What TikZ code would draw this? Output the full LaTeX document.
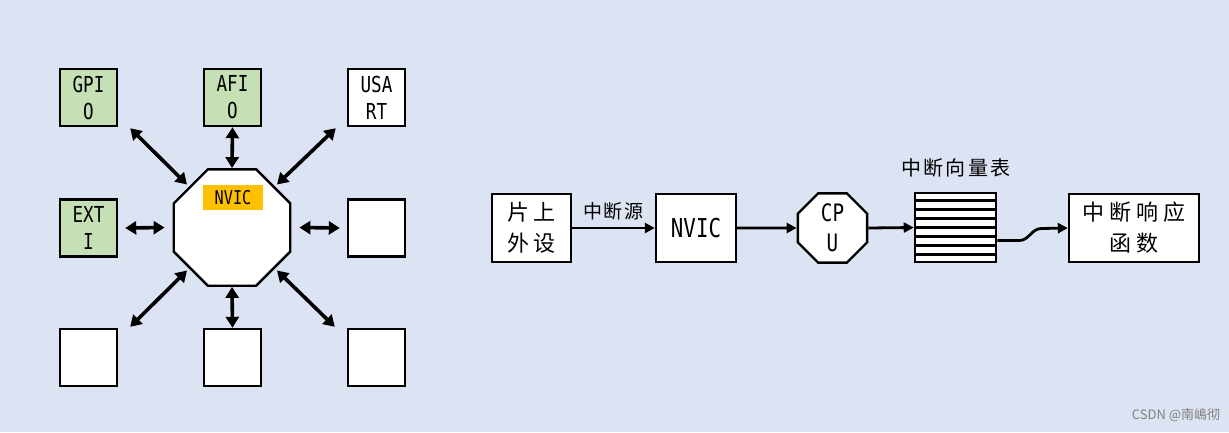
\documentclass[tikz,border=0pt]{standalone}
\usepackage{fontspec}
\usetikzlibrary{arrows.meta,shapes.geometric,calc}
\newfontfamily\cjk{Noto Sans CJK SC}
\newfontfamily\lat[FakeStretch=0.8]{DejaVu Sans Mono}
\definecolor{bg}{RGB}{220,227,242}
\definecolor{grn}{RGB}{197,224,180}
\definecolor{org}{RGB}{255,192,0}
\begin{document}
\begin{tikzpicture}[x=1pt,y=-1pt,
  sq/.style={draw, line width=2.4pt, fill=white, minimum width=57pt, minimum height=57pt, inner sep=0pt, align=center, font=\lat\fontsize{22}{27}\selectfont},
  gsq/.style={sq, fill=grn},
  dbl/.style={{Triangle[length=11pt,width=13pt]}-{Triangle[length=11pt,width=13pt]}, line width=3.6pt},
  arr/.style={-{Triangle[length=10pt,width=10pt]}, line width=2.8pt},
  rbox/.style={draw, line width=2.4pt, fill=white, minimum height=68pt, inner sep=0pt, align=center},
  cj/.style={font=\cjk\fontsize{22}{31}\selectfont\addfontfeature{LetterSpace=22}},
]
\fill[bg] (0,0) rectangle (1229,432);
\useasboundingbox (0,0) rectangle (1229,432);

% left cluster
\node[gsq] (gpio) at (88.5,97.5) {GPI\\O};
\node[gsq] (afio) at (232.5,97.5) {AFI\\O};
\node[sq] (usart) at (376.5,97.5) {USA\\RT};
\node[gsq] (exti) at (88.5,228) {EXT\\I};
\node[sq] (rm) at (376.5,228) {};
\node[sq] (bl) at (88.5,357.5) {};
\node[sq] (bc) at (232.5,357.5) {};
\node[sq] (br) at (376.5,357.5) {};
\node[draw, line width=2.4pt, fill=white, regular polygon, regular polygon sides=8, minimum size=126pt, inner sep=0pt] (oct) at (232,227.5) {};
\node[fill=org, minimum width=60pt, minimum height=25pt, inner sep=0pt, font=\lat\fontsize{19}{20}\selectfont] (nvl) at (233,197.5) {NVIC};

\draw[dbl] ([shift={(12,1)}]gpio.south east) -- ([shift={(-3,-1)}]oct.135);
\draw[dbl] (afio.south) -- (oct.north);
\draw[dbl] ([shift={(-11,1)}]usart.south west) -- ([shift={(3,-1)}]oct.45);
\draw[dbl] ([shift={(7,0)}]exti.east) -- ([shift={(-8,0)}]oct.west);
\draw[dbl] ([shift={(8,0)}]oct.east) -- ([shift={(-7,0)}]rm.west);
\draw[dbl] ([shift={(-3,1)}]oct.225) -- ([shift={(12,-1)}]bl.north east);
\draw[dbl] (oct.south) -- (bc.north);
\draw[dbl] ([shift={(3,1)}]oct.315) -- ([shift={(-12,-1)}]br.north west);

% right flow
\node[rbox, minimum width=79pt, cj] (src) at (531.5,228) {片上\\外设};
\node[rbox, minimum width=80pt, font=\lat\fontsize{26}{28}\selectfont] (nv) at (696,228) {NVIC};
\node[draw, line width=2.4pt, fill=white, regular polygon, regular polygon sides=8, minimum size=75pt, inner sep=0pt, align=center, font=\lat\fontsize{24}{30}\selectfont] (cpu) at (832.5,228) {CP\\U};
\node[draw, line width=2.6pt, fill=white, minimum width=81pt, minimum height=69pt, inner sep=0pt] (vt) at (955.5,227.5) {};
\foreach \i in {1,...,7} {
  \draw[line width=2.6pt] ($(vt.north west)!\i/8!(vt.south west)$) -- ($(vt.north east)!\i/8!(vt.south east)$);
}
\node[font=\cjk\fontsize{20}{22}\selectfont\addfontfeature{LetterSpace=12}] (vtl) at (956,168) {中断向量表};
\node[rbox, minimum width=130pt, cj] (isr) at (1134,228) {中断响应\\函数};

\draw[arr] (src.east) -- node[above=3pt, font=\cjk\fontsize{19}{22}\selectfont\addfontfeature{LetterSpace=8}] (srcl) {中断源} (nv.west);
\draw[arr] (nv.east) -- (cpu.west);
\draw[arr] (cpu.east) -- (vt.west);
\draw[arr] ([shift={(0,13)}]vt.east) -- ++(22,0) to[out=0,in=180] ++(22,-12) -- (isr.west);

\node[text=gray, font=\cjk\fontsize{13}{15}\selectfont] (wm) at (1176,415) {CSDN @南嶋彻};
\end{tikzpicture}
\end{document}
